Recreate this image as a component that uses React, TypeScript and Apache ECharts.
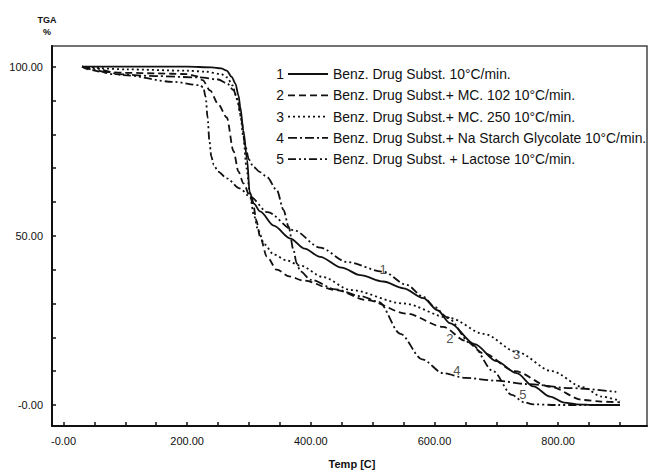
import React, { useEffect, useRef } from "react";
import * as echarts from "echarts";

// Curve 1: Benz. Drug Subst.
const t1 = [30, 100, 200, 240, 255, 264, 272, 278, 283, 286, 291, 297, 301, 308, 318, 340, 367, 390, 415, 450, 480, 517, 550, 582, 605, 625, 665, 700, 733, 760, 787, 810, 830, 860, 900];
const w1 = [100, 100, 100, 99.8, 99.5, 98.8, 97, 95, 91.5, 88, 81, 72.4, 63, 59.5, 57.2, 53, 49.2, 46.2, 43.8, 40.6, 38.4, 36.5, 34.5, 31.6, 28, 24.2, 18, 13, 9.4, 5.5, 2.5, 0.7, 0.2, 0, 0];
// Curve 2: + MC. 102
const t2 = [30, 45, 60, 100, 150, 200, 215, 225, 237, 250, 264, 275, 283, 291, 302, 307, 312, 318, 329, 345, 365, 388, 440, 491, 555, 614, 650, 679, 730, 787, 840, 870, 900];
const w2 = [100, 99, 98.5, 98.2, 98, 97.8, 97.2, 96, 93, 89, 85, 75, 69, 65.5, 61.5, 59, 54.5, 49.7, 43.8, 40, 38, 36.8, 34, 31, 27, 23.1, 19, 15.3, 10, 5.4, 1.5, 1, 0.8];
// Curve 3: + MC. 250
const t3 = [30, 100, 200, 230, 255, 265, 273, 280, 286, 291, 296, 302, 308, 315, 325, 340, 360, 383, 420, 464, 550, 625, 680, 733, 790, 840, 870, 900];
const w3 = [100, 99.2, 98.8, 98.5, 97.8, 96.8, 94.5, 91, 86, 79, 70, 61.5, 56, 51.5, 47.5, 44.5, 42.8, 41.2, 37.8, 34, 30, 25.7, 21, 15.7, 10, 5.3, 2.5, 1.2];
// Curve 4: + Na Starch Glycolate
const t4 = [30, 50, 80, 150, 220, 250, 265, 275, 282, 288, 294, 300, 307, 318, 329, 345, 356, 364, 372, 377, 383, 400, 440, 480, 510, 545, 580, 614, 650, 700, 750, 820, 894];
const w4 = [100, 99, 97.8, 97.2, 96.8, 96.2, 95, 93, 90, 84, 76.5, 72.5, 70.4, 68.8, 67.4, 63.5, 57.6, 52.7, 45.8, 41.9, 39.5, 37, 34.2, 32.2, 30.5, 21, 13.5, 9.4, 8, 7.2, 6.2, 5, 3.9];
// Curve 5: + Lactose
const t5 = [30, 50, 97, 178, 221, 226, 230, 233, 236, 239, 243, 250, 264, 285, 302, 330, 372, 415, 458, 517, 555, 582, 600, 620, 660, 695, 725, 745, 760, 800, 900];
const w5 = [100, 99.5, 97.5, 95.5, 94.5, 93.8, 91, 85, 78, 73.5, 71, 69, 67, 64, 61.5, 57, 51.7, 46.5, 42.3, 39.4, 35.5, 32, 29, 26, 18, 10, 3, 0.8, 0.2, 0, 0];

const legendNames = [
  "Benz. Drug Subst. 10°C/min.",
  "Benz. Drug Subst.+ MC. 102 10°C/min.",
  "Benz. Drug Subst.+ MC. 250 10°C/min.",
  "Benz. Drug Subst.+ Na Starch Glycolate 10°C/min.",
  "Benz. Drug Subst. + Lactose 10°C/min.",
];
const curveLabels = ["1", "2", "3", "4", "5"];
const labelT = [517, 625, 733, 636, 743];
const labelW = [40, 19.8, 14.8, 10.3, 3];

const xTicks = [0, 50, 100, 150, 200, 250, 300, 350, 400, 450, 500, 550, 600, 650, 700, 750, 800, 850, 900];
const xLabels = [0, 200, 400, 600, 800];
const yTicks = [0, 10, 20, 30, 40, 50, 60, 70, 80, 90, 100];
const yLabels = [0, 50, 100];

const dashes: any[] = ["solid", [7, 4], [2, 3], [9, 3, 2, 3], [8, 3, 2, 3, 2, 3]];

const fmt = (v: number) => (v === 0 ? "-0.00" : v.toFixed(2));

export default function App() {
  const ref = useRef<HTMLDivElement>(null);
  useEffect(() => {
    if (!ref.current) return;
    const chart = echarts.init(ref.current, null, { renderer: "svg" });
    const ts = [t1, t2, t3, t4, t5];
    const ws = [w1, w2, w3, w4, w5];
    const lineSeries = ts.map((t, i) => ({
      type: "line",
      name: curveLabels[i],
      data: t.map((x, j) => [x, ws[i][j]]),
      showSymbol: false,
      smooth: 0.3,
      smoothMonotone: "x",
      lineStyle: { color: "#111", width: 1.8, type: dashes[i] },
      silent: true,
    }));
    const font = "Liberation Sans, Arial, sans-serif";
    const labelSeries = {
      type: "scatter",
      data: labelT.map((x, i) => [x, labelW[i], curveLabels[i]]),
      symbolSize: 1,
      itemStyle: { color: "rgba(0,0,0,0)" },
      label: {
        show: true,
        position: "inside",
        formatter: (p: any) => p.data[2],
        color: "#222",
        fontSize: 13,
        fontFamily: font,
      },
      silent: true,
    };
    const g: any[] = [];
    const rowY = [74, 95.3, 116.6, 137.9, 159.2];
    legendNames.forEach((n, i) => {
      g.push({
        type: "text",
        x: 284,
        y: rowY[i],
        style: { text: curveLabels[i], font: `13.9px ${font}`, fill: "#111", textAlign: "right", textVerticalAlign: "middle" },
      });
      g.push({
        type: "line",
        shape: { x1: 288, y1: rowY[i], x2: 328, y2: rowY[i] },
        style: { stroke: "#111", lineWidth: 1.8, lineDash: dashes[i] === "solid" ? null : dashes[i] },
      });
      g.push({
        type: "text",
        x: 333,
        y: rowY[i],
        style: { text: n, font: `13.9px ${font}`, fill: "#111", textAlign: "left", textVerticalAlign: "middle" },
      });
    });
    g.push({
      type: "text",
      x: 47,
      y: 20,
      style: { text: "TGA", font: `bold 9px ${font}`, fill: "#111", textAlign: "center", textVerticalAlign: "middle" },
    });
    g.push({
      type: "text",
      x: 47,
      y: 32,
      style: { text: "%", font: `bold 9px ${font}`, fill: "#111", textAlign: "center", textVerticalAlign: "middle" },
    });
    g.push({
      type: "text",
      x: 352,
      y: 464,
      style: { text: "Temp [C]", font: `bold 11px ${font}`, fill: "#111", textAlign: "center", textVerticalAlign: "middle" },
    });

    chart.setOption({
      animation: false,
      backgroundColor: "#fff",
      grid: { left: 52, right: 2, top: 46, bottom: 47, show: true, borderColor: "#444", borderWidth: 1.5 },
      xAxis: {
        type: "value",
        min: -18.6,
        max: 943.7,
        axisLine: { show: true, onZero: false, lineStyle: { color: "#111", width: 2 } },
        axisTick: { show: true, inside: true, length: 4, customValues: xTicks, lineStyle: { color: "#111", width: 1.5 } },
        axisLabel: { customValues: xLabels, formatter: fmt, color: "#111", fontSize: 11, fontFamily: font, margin: 9 },
        splitLine: { show: false },
      },
      yAxis: {
        type: "value",
        min: -6.2,
        max: 106.1,
        axisLine: { show: true, onZero: false, lineStyle: { color: "#111", width: 2 } },
        axisTick: { show: true, inside: true, length: 4, customValues: yTicks, lineStyle: { color: "#111", width: 1.5 } },
        axisLabel: { customValues: yLabels, formatter: fmt, color: "#111", fontSize: 11, fontFamily: font, margin: 9 },
        splitLine: { show: false },
      },
      series: [...lineSeries, labelSeries],
      graphic: g,
    });
    return () => chart.dispose();
  }, []);
  return <div ref={ref} style={{ position: "absolute", left: 0, top: 0, width: 649, height: 473 }} />;
}
